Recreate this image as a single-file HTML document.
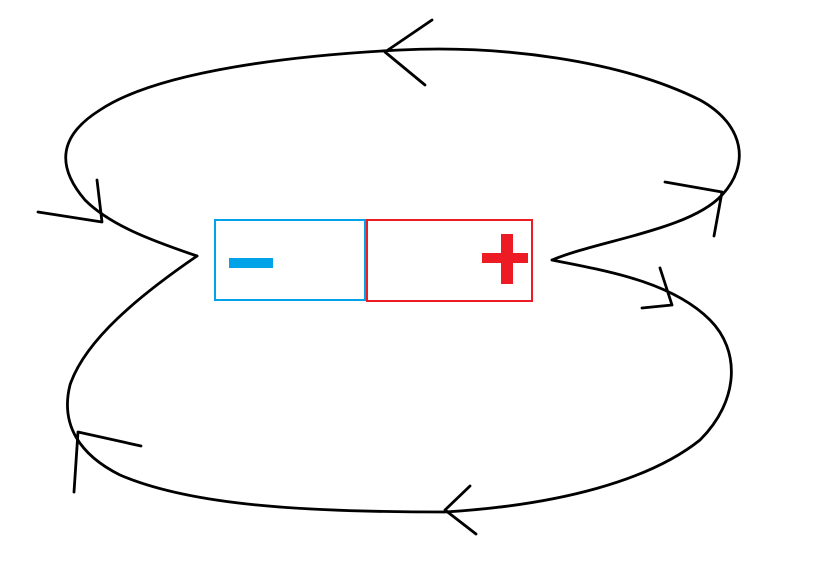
<!DOCTYPE html>
<html><head><style>html,body{margin:0;padding:0;background:#fff}svg{display:block}</style></head>
<body>
<svg width="815" height="582" viewBox="0 0 815 582" xmlns="http://www.w3.org/2000/svg">
<g fill="none" stroke="#000" stroke-width="2.8" stroke-linecap="round" stroke-linejoin="round">
<path d="M197,256 C150,240 110,225 85,200 C55,165 60,135 100,110 C160,70 300,55 400,50 C500,45 620,60 700,100 C745,125 750,165 722,195 C690,230 600,240 552,260"/>
<path d="M197,256 C140,295 85,340 70,385 C60,425 80,455 120,475 C190,505 300,512 445,512 C560,505 650,480 700,440 C740,400 740,350 710,320 C670,280 600,270 552,260"/>
<path d="M432,20 L385,52 L425,85"/>
<path d="M38,212 L102,222 L97,180"/>
<path d="M665,182 L722,192 L714,236"/>
<path d="M660,268 L672,305 L642,308"/>
<path d="M74,492 L78,432 L141,446"/>
<path d="M470,486 L445,510 L476,534"/>
</g>
<rect x="215" y="220" width="150" height="80" fill="none" stroke="#00a2e8" stroke-width="2"/>
<rect x="367" y="220" width="165" height="81" fill="none" stroke="#ed1c24" stroke-width="2"/>
<rect x="229" y="258" width="44" height="10" fill="#00a2e8"/>
<rect x="482" y="253" width="46" height="10" fill="#ed1c24"/>
<rect x="501" y="234" width="12" height="50" fill="#ed1c24"/>
</svg>
</body></html>
